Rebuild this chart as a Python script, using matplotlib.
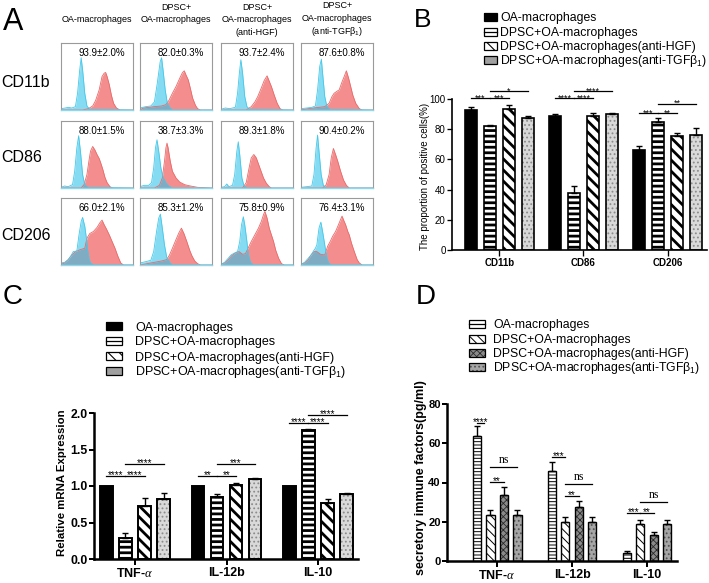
import numpy as np
import matplotlib
matplotlib.use('Agg')
import matplotlib.pyplot as plt
from matplotlib.patches import Rectangle

plt.rcParams['font.family'] = ['Liberation Sans', 'DejaVu Sans']
plt.rcParams['mathtext.fontset'] = 'custom'
plt.rcParams['mathtext.rm'] = 'Liberation Sans'
plt.rcParams['mathtext.it'] = 'Liberation Serif:italic'
plt.rcParams['mathtext.bf'] = 'Liberation Sans:bold'
plt.rcParams['mathtext.default'] = 'it'
plt.rcParams['hatch.linewidth'] = 1.5

W, H = 709, 583

# ---------------- panel A : flow histograms ----------------
col_titles = [['OA-macrophages'],
              ['DPSC+', 'OA-macrophages'],
              ['DPSC+', 'OA-macrophages', '(anti-HGF)'],
              ['DPSC+', 'OA-macrophages', '(anti-TGF$\\mathrm{\\beta_1}$)']]
markers = ['CD11b', 'CD86', 'CD206']
pos_text = [['93.9±2.0%', '82.0±0.3%', '93.7±2.4%', '87.6±0.8%'],
            ['88.0±1.5%', '38.7±3.3%', '89.3±1.8%', '90.4±0.2%'],
            ['66.0±2.1%', '85.3±1.2%', '75.8±0.9%', '76.4±3.1%']]

# curves as (x, y) points, box-relative 0..1
cd11b_blue = [
    [(0, .02), (.06, .03), (.1, .04), (.15, .03), (.2, .05), (.23, .25), (.26, .6), (.28, .78), (.3, .6), (.33, .25), (.36, .06), (.4, .01), (1, 0)],
    [(0, .03), (.08, .05), (.15, .06), (.2, .12), (.24, .4), (.28, .72), (.3, .78), (.32, .6), (.35, .3), (.38, .1), (.41, .04), (.45, 0), (1, 0)],
    [(0, .01), (.06, .03), (.12, .02), (.2, .04), (.23, .25), (.255, .55), (.276, .75), (.3, .55), (.33, .2), (.36, .05), (.4, .01), (1, 0)],
    [(0, .02), (.08, .03), (.15, .04), (.2, .06), (.23, .3), (.26, .65), (.283, .76), (.3, .55), (.33, .2), (.36, .05), (.4, .01), (1, 0)]]
cd11b_red = [
    [(0, 0), (.3, 0), (.38, .02), (.44, .06), (.48, .14), (.53, .3), (.57, .5), (.6, .55), (.62, .56), (.64, .5), (.67, .38), (.7, .22), (.73, .1), (.77, .03), (.82, 0), (1, 0)],
    [(0, 0), (.05, .03), (.2, .05), (.3, .06), (.36, .08), (.4, .14), (.45, .25), (.5, .35), (.55, .47), (.59, .56), (.615, .585), (.64, .52), (.67, .45), (.7, .32), (.73, .18), (.77, .07), (.8, .02), (.84, 0), (1, 0)],
    [(0, 0), (.35, 0), (.42, .05), (.47, .12), (.51, .2), (.56, .33), (.6, .44), (.64, .51), (.67, .43), (.7, .35), (.74, .22), (.78, .1), (.82, .02), (.86, 0), (1, 0)],
    [(0, 0), (.1, .02), (.25, .04), (.33, .05), (.39, .1), (.43, .2), (.46, .25), (.5, .28), (.53, .3), (.57, .42), (.6, .5), (.63, .585), (.66, .48), (.69, .35), (.72, .22), (.76, .1), (.81, .02), (.85, 0), (1, 0)]]
cd86_blue = [
    [(0, .01), (.05, .03), (.1, .02), (.16, .05), (.19, .25), (.22, .6), (.245, .78), (.27, .55), (.3, .2), (.33, .05), (.37, .01), (1, 0)],
    [(0, .02), (.06, .04), (.12, .04), (.16, .08), (.19, .3), (.215, .6), (.236, .72), (.26, .55), (.29, .3), (.32, .16), (.36, .08), (.4, .03), (.45, 0), (1, 0)],
    [(0, .01), (.05, .02), (.08, .06), (.11, .02), (.16, .04), (.19, .2), (.22, .55), (.24, .69), (.26, .5), (.29, .15), (.32, .03), (.36, 0), (1, 0)],
    [(0, .01), (.08, .02), (.15, .03), (.18, .2), (.21, .6), (.23, .79), (.25, .55), (.28, .2), (.31, .04), (.35, 0), (1, 0)]]
cd86_red = [
    [(0, 0), (.28, 0), (.32, .05), (.36, .2), (.39, .42), (.41, .55), (.44, .62), (.47, .57), (.5, .5), (.53, .44), (.55, .38), (.58, .28), (.61, .16), (.64, .08), (.68, .02), (.72, 0), (1, 0)],
    [(0, 0), (.2, 0), (.27, .04), (.31, .15), (.34, .4), (.36, .6), (.375, .67), (.39, .6), (.42, .4), (.45, .25), (.5, .15), (.55, .09), (.62, .05), (.7, .03), (.8, .01), (1, 0)],
    [(0, 0), (.3, 0), (.35, .08), (.39, .3), (.42, .45), (.456, .5), (.49, .45), (.52, .36), (.55, .27), (.59, .15), (.63, .07), (.67, .02), (.7, 0), (1, 0)],
    [(0, 0), (.3, 0), (.35, .05), (.39, .2), (.42, .45), (.45, .59), (.48, .5), (.51, .4), (.55, .25), (.59, .12), (.63, .04), (.67, 0), (1, 0)]]
cd206_blue = [
    [(0, .03), (.05, .04), (.1, .08), (.14, .14), (.17, .2), (.22, .21), (.25, .45), (.28, .65), (.3, .71), (.33, .58), (.35, .42), (.37, .22), (.39, .08), (.42, .02), (.46, 0), (1, 0)],
    [(0, .03), (.08, .05), (.15, .07), (.19, .2), (.23, .5), (.26, .7), (.283, .76), (.31, .55), (.34, .3), (.37, .12), (.41, .04), (.45, 0), (1, 0)],
    [(0, .01), (.05, .04), (.1, .1), (.14, .15), (.19, .18), (.23, .2), (.26, .35), (.285, .6), (.31, .72), (.33, .6), (.36, .35), (.38, .15), (.41, .04), (.45, 0), (1, 0)],
    [(0, .01), (.05, .04), (.1, .1), (.14, .15), (.18, .22), (.2, .25), (.22, .3), (.25, .55), (.276, .64), (.3, .5), (.33, .3), (.36, .1), (.39, .02), (.43, 0), (1, 0)]]
cd206_red = [
    [(0, .01), (.05, .03), (.1, .08), (.15, .15), (.2, .2), (.27, .23), (.33, .25), (.36, .4), (.4, .47), (.45, .5), (.5, .56), (.54, .63), (.57, .67), (.6, .6), (.63, .54), (.67, .45), (.71, .35), (.75, .25), (.79, .13), (.83, .03), (.87, 0), (1, 0)],
    [(0, 0), (.1, .02), (.2, .04), (.3, .06), (.37, .08), (.41, .15), (.45, .25), (.5, .38), (.54, .48), (.575, .55), (.61, .47), (.65, .35), (.69, .22), (.72, .14), (.76, .06), (.8, .02), (.84, 0), (1, 0)],
    [(0, .01), (.05, .03), (.1, .08), (.15, .14), (.2, .18), (.25, .2), (.3, .16), (.34, .17), (.38, .26), (.42, .35), (.47, .45), (.52, .55), (.56, .65), (.59, .75), (.61, .8), (.64, .7), (.67, .55), (.7, .45), (.73, .35), (.76, .22), (.8, .1), (.84, .02), (.88, 0), (1, 0)],
    [(0, .01), (.05, .03), (.1, .08), (.14, .15), (.18, .2), (.22, .2), (.27, .16), (.33, .15), (.37, .28), (.405, .35), (.44, .43), (.48, .5), (.52, .6), (.55, .68), (.57, .73), (.6, .65), (.62, .6), (.65, .5), (.67, .45), (.7, .33), (.74, .2), (.78, .08), (.81, .03), (.85, 0), (1, 0)]]

# ---------------- panel B : positive cells (%) ----------------
b_groups = ['CD11b', 'CD86', 'CD206']
b_oa = [93.0, 88.5, 66.5]
b_oa_err = [1.5, 1.3, 2.2]
b_dpsc = [82.0, 38.0, 85.0]
b_dpsc_err = [0.5, 4.2, 2.3]
b_hgf = [93.3, 88.5, 75.8]
b_hgf_err = [2.6, 2.0, 1.4]
b_tgf = [87.5, 90.2, 76.3]
b_tgf_err = [1.2, 0.5, 4.5]
b_sig = [(0, 0, 1, 100.5, '***'), (0, 1, 2, 100.5, '***'), (0, 1, 3, 105, '*'),
         (1, 0, 1, 100.5, '****'), (1, 1, 2, 100.5, '****'), (1, 1, 3, 105, '****'),
         (2, 0, 1, 90.5, '***'), (2, 1, 2, 90.5, '**'), (2, 1, 3, 97, '**')]

# ---------------- panel C : relative mRNA ----------------
c_groups = ['TNF-$\\alpha$', 'IL-12b', 'IL-10']
c_oa = [1.0, 1.0, 1.0]
c_oa_err = [0, 0, 0]
c_dpsc = [0.29, 0.85, 1.77]
c_dpsc_err = [0.07, 0.04, 0.01]
c_hgf = [0.72, 1.02, 0.77]
c_hgf_err = [0.11, 0.02, 0.05]
c_tgf = [0.82, 1.10, 0.89]
c_tgf_err = [0.09, 0.01, 0.02]
c_sig = [(0, 0, 1, 1.14, '****'), (0, 1, 2, 1.14, '****'), (0, 1, 3, 1.30, '****'),
         (1, 0, 1, 1.14, '**'), (1, 1, 2, 1.14, '**'), (1, 1, 3, 1.30, '***'),
         (2, 0, 1, 1.86, '****'), (2, 1, 2, 1.86, '****'), (2, 1, 3, 1.97, '****')]

# ---------------- panel D : secreted factors ----------------
d_groups = ['TNF-$\\alpha$', 'IL-12b', 'IL-10']
d_oa = [63.8, 46.0, 4.1]
d_oa_err = [4.8, 4.7, 1.2]
d_dpsc = [23.2, 20.0, 19.1]
d_dpsc_err = [2.8, 2.2, 1.7]
d_hgf = [33.4, 27.3, 13.5]
d_hgf_err = [4.5, 3.2, 1.5]
d_tgf = [23.2, 20.0, 19.1]
d_tgf_err = [2.8, 2.2, 1.7]
d_sig = [(0, 0, 0.55, 70.3, '****'), (0, 1, 2, 40.4, '**'), (0, 1, 3, 47.8, 'ns'),
         (1, 0, 1, 53.2, '***'), (1, 1, 2, 33.3, '**'), (1, 1, 3, 39.2, 'ns'),
         (2, 0, 1, 24.6, '***'), (2, 1, 2, 24.6, '**'), (2, 1, 3, 29.9, 'ns')]

legend_names = ['OA-macrophages', 'DPSC+OA-macrophages', 'DPSC+OA-macrophages(anti-HGF)',
                'DPSC+OA-macrophages(anti-TGF$\\mathrm{\\beta_1}$)']

# bar fill styles
styles_bc = [dict(fc='black', hatch=None, hc='black', hlw=1),
             dict(fc='white', hatch='---', hc='black', hlw=2.0),
             dict(fc='white', hatch='\\\\\\', hc='black', hlw=2.0),
             dict(fc='#d9d9d9', hatch='....', hc='#8c8c8c', hlw=0.8)]
styles_d = [dict(fc='white', hatch='-----', hc='black', hlw=0.7),
            dict(fc='white', hatch='\\\\\\\\', hc='black', hlw=0.7),
            dict(fc='#8a8a8a', hatch='xxxxx', hc='#2a2a2a', hlw=0.6),
            dict(fc='#a6a6a6', hatch='....', hc='#555555', hlw=0.8)]


def px_rect(l, t, r, b):
    return [l / W, 1 - b / H, (r - l) / W, (b - t) / H]


def set_hlw(p, lw):
    if hasattr(p, 'set_hatch_linewidth'):
        p.set_hatch_linewidth(lw)
    else:
        p._hatch_linewidth = lw


fig = plt.figure(figsize=(W / 100, H / 100), dpi=100)

# panel A boxes
col_left = [61, 140, 221, 301]
row_top = [43, 121, 198]
bw, bh = 72, 67
curves = [(cd11b_blue, cd11b_red), (cd86_blue, cd86_red), (cd206_blue, cd206_red)]
for r in range(3):
    for c in range(4):
        ax = fig.add_axes(px_rect(col_left[c], row_top[r], col_left[c] + bw, row_top[r] + bh))
        red = np.array(curves[r][1][c])
        blue = np.array(curves[r][0][c])
        ax.fill_between(red[:, 0], 0, red[:, 1], color='#f48e8e', lw=0)
        ax.plot(red[:, 0], red[:, 1], color='#e86a6a', lw=0.6)
        ax.fill_between(blue[:, 0], 0, blue[:, 1], color='#2cc2ea', alpha=0.58, lw=0)
        ax.plot(blue[:, 0], blue[:, 1], color='#45c8e8', lw=0.6)
        ax.set_xlim(0, 1)
        ax.set_ylim(0, 1)
        ax.set_xticks([])
        ax.set_yticks([])
        for s in ax.spines.values():
            s.set_color('#9a9a9a')
            s.set_linewidth(0.8)
        ax.spines['bottom'].set_color('#8fd8ea')
        ax.spines['bottom'].set_linewidth(1.0)


def draw_bars(ax, series, errs, styles, pitch, width, edge_lw, capsize):
    n = len(series)
    base = np.arange(len(series[0]))
    for i in range(n):
        xs = base + (i - (n - 1) / 2) * pitch
        st = styles[i]
        fill = ax.bar(xs, series[i], width, color=st['fc'], hatch=st['hatch'],
                      edgecolor=st['hc'], linewidth=0, zorder=2)
        for p in fill:
            set_hlw(p, st['hlw'])
        ax.bar(xs, series[i], width, fill=False, edgecolor='black', linewidth=edge_lw, zorder=3)
        if max(errs[i]) > 0:
            ax.errorbar(xs, series[i], yerr=[np.zeros(len(errs[i])), errs[i]], fmt='none',
                        ecolor='black', elinewidth=1.0, capsize=capsize, capthick=1.0, zorder=4)


def style_axis(ax, xlim, ylim, yticks, ytl, groups, spine_lw, yfs, ybold, xfs):
    ax.set_xlim(*xlim)
    ax.set_ylim(*ylim)
    for s in ['top', 'right']:
        ax.spines[s].set_visible(False)
    for s in ['left', 'bottom']:
        ax.spines[s].set_linewidth(spine_lw)
    ax.set_yticks(yticks)
    ax.set_yticklabels(ytl, fontsize=yfs, fontweight='bold' if ybold else 'normal')
    ax.set_xticks(range(len(groups)))
    ax.set_xticklabels(groups, fontsize=xfs, fontweight='bold')
    ax.tick_params(axis='y', direction='out', length=3.5, width=spine_lw * 0.8, pad=1)
    ax.tick_params(axis='x', direction='out', length=4, width=spine_lw * 0.8, pad=2)
    ax.patch.set_visible(False)


def draw_sig(ax, sigs, pitch, fs):
    for g, i, j, y, txt in sigs:
        x0 = g + (i - 1.5) * pitch
        x1 = g + (j - 1.5) * pitch
        ax.plot([x0, x1], [y, y], color='black', lw=0.9, clip_on=False, zorder=5)
        if txt == 'ns':
            ax.annotate(txt, ((x0 + x1) / 2, y), xytext=(0, 1), textcoords='offset points',
                        ha='center', va='bottom', fontsize=fs + 1.5, family='Liberation Serif',
                        annotation_clip=False)
        else:
            ax.annotate(txt, ((x0 + x1) / 2, y), xytext=(0, -1.5), textcoords='offset points',
                        ha='center', va='baseline', fontsize=fs, annotation_clip=False)


# panel B
axb = fig.add_axes(px_rect(452, 99, 707, 250))
pb = 0.226
draw_bars(axb, [b_oa, b_dpsc, b_hgf, b_tgf], [b_oa_err, b_dpsc_err, b_hgf_err, b_tgf_err],
          styles_bc, pb, 0.143, 1.2, 2.5)
style_axis(axb, (-0.565, 2.47), (0, 100), [0, 20, 40, 60, 80, 100],
           ['0', '20', '40', '60', '80', '100'], b_groups, 1.2, 7, False, 7)
draw_sig(axb, b_sig, pb, 6.5)

# panel C
axc = fig.add_axes(px_rect(94, 413, 358, 559))
pc = 0.208
draw_bars(axc, [c_oa, c_dpsc, c_hgf, c_tgf], [c_oa_err, c_dpsc_err, c_hgf_err, c_tgf_err],
          styles_bc, pc, 0.137, 1.4, 2.5)
style_axis(axc, (-0.448, 2.437), (0, 2), [0, 0.5, 1.0, 1.5, 2.0],
           ['0.0', '0.5', '1.0', '1.5', '2.0'], c_groups, 1.8, 8.8, True, 9)
draw_sig(axc, c_sig, pc, 7)

# panel D
axd = fig.add_axes(px_rect(447, 404, 677, 561))
pd_ = 0.18
draw_bars(axd, [d_oa, d_dpsc, d_hgf, d_tgf], [d_oa_err, d_dpsc_err, d_hgf_err, d_tgf_err],
          styles_d, pd_, 0.113, 1.0, 2.0)
style_axis(axd, (-0.667, 2.4), (0, 80), [0, 20, 40, 60, 80],
           ['0', '20', '40', '60', '80'], d_groups, 1.8, 8, True, 9)
draw_sig(axd, d_sig, pd_, 7)

# overlay in pixel coordinates for text and legends
ov = fig.add_axes([0, 0, 1, 1], zorder=10)
ov.set_xlim(0, W)
ov.set_ylim(H, 0)
ov.axis('off')

ov.text(3, 30, 'A', fontsize=22, va='baseline')
ov.text(414, 27, 'B', fontsize=19, va='baseline')
ov.text(3, 304, 'C', fontsize=20, va='baseline')
ov.text(416, 304, 'D', fontsize=20, va='baseline')

title_base = [[21.5], [10, 21.5], [10, 22, 35], [8, 21, 34]]
for c in range(4):
    xc = col_left[c] + bw / 2
    for line, yb in zip(col_titles[c], title_base[c]):
        ov.text(xc, yb, line, fontsize=6.5, ha='center', va='baseline')

row_base = [87, 162, 240]
for r in range(3):
    ov.text(1, row_base[r], markers[r], fontsize=11.5, va='baseline')
    for c in range(4):
        ov.text(col_left[c] + 41, row_top[r] + 13, pos_text[r][c], fontsize=7,
                ha='center', va='baseline')

ov.text(425, 176, 'The proportion of positive cells(%)', fontsize=7, rotation=90,
        ha='center', va='center')
ov.text(62, 483, 'Relative mRNA Expression', fontsize=8.2, fontweight='bold', rotation=90,
        ha='center', va='center')
ov.text(421, 478, 'secretory immune factors(pg/ml)', fontsize=9, fontweight='bold', rotation=90,
        ha='center', va='center')


def draw_legend(x, rows, pw, tx, fs, styles, middle_line):
    for k, y in enumerate(rows):
        st = styles[k]
        if middle_line[k]:
            ov.add_patch(Rectangle((x, y - 4), pw, 8, facecolor='white', edgecolor='black', lw=0.9))
            ov.plot([x, x + pw], [y, y], color='black', lw=0.9)
        else:
            rect = Rectangle((x, y - 4), pw, 8, facecolor=st['fc'], hatch=st['hatch'],
                             edgecolor=st['hc'], lw=0)
            set_hlw(rect, min(st['hlw'], 0.8))
            ov.add_patch(rect)
            ov.add_patch(Rectangle((x, y - 4), pw, 8, fill=False, edgecolor='black', lw=0.9))
        ov.text(tx, y + fs * 0.5, legend_names[k], fontsize=fs, va='baseline')


leg_b_styles = [styles_bc[0], styles_bc[1], styles_bc[2], dict(fc='#a0a0a0', hatch=None, hc='#a0a0a0', hlw=1)]
draw_legend(484, [17, 32, 46, 60], 13, 500, 8.8, leg_b_styles, [False, True, False, False])
draw_legend(106, [326, 341, 356, 371], 16, 135, 9, leg_b_styles, [False, True, False, False])
draw_legend(469, [324, 339, 353, 367], 16, 493, 8.8, styles_d, [True, False, False, False])

fig.savefig('out.png', dpi=100)
